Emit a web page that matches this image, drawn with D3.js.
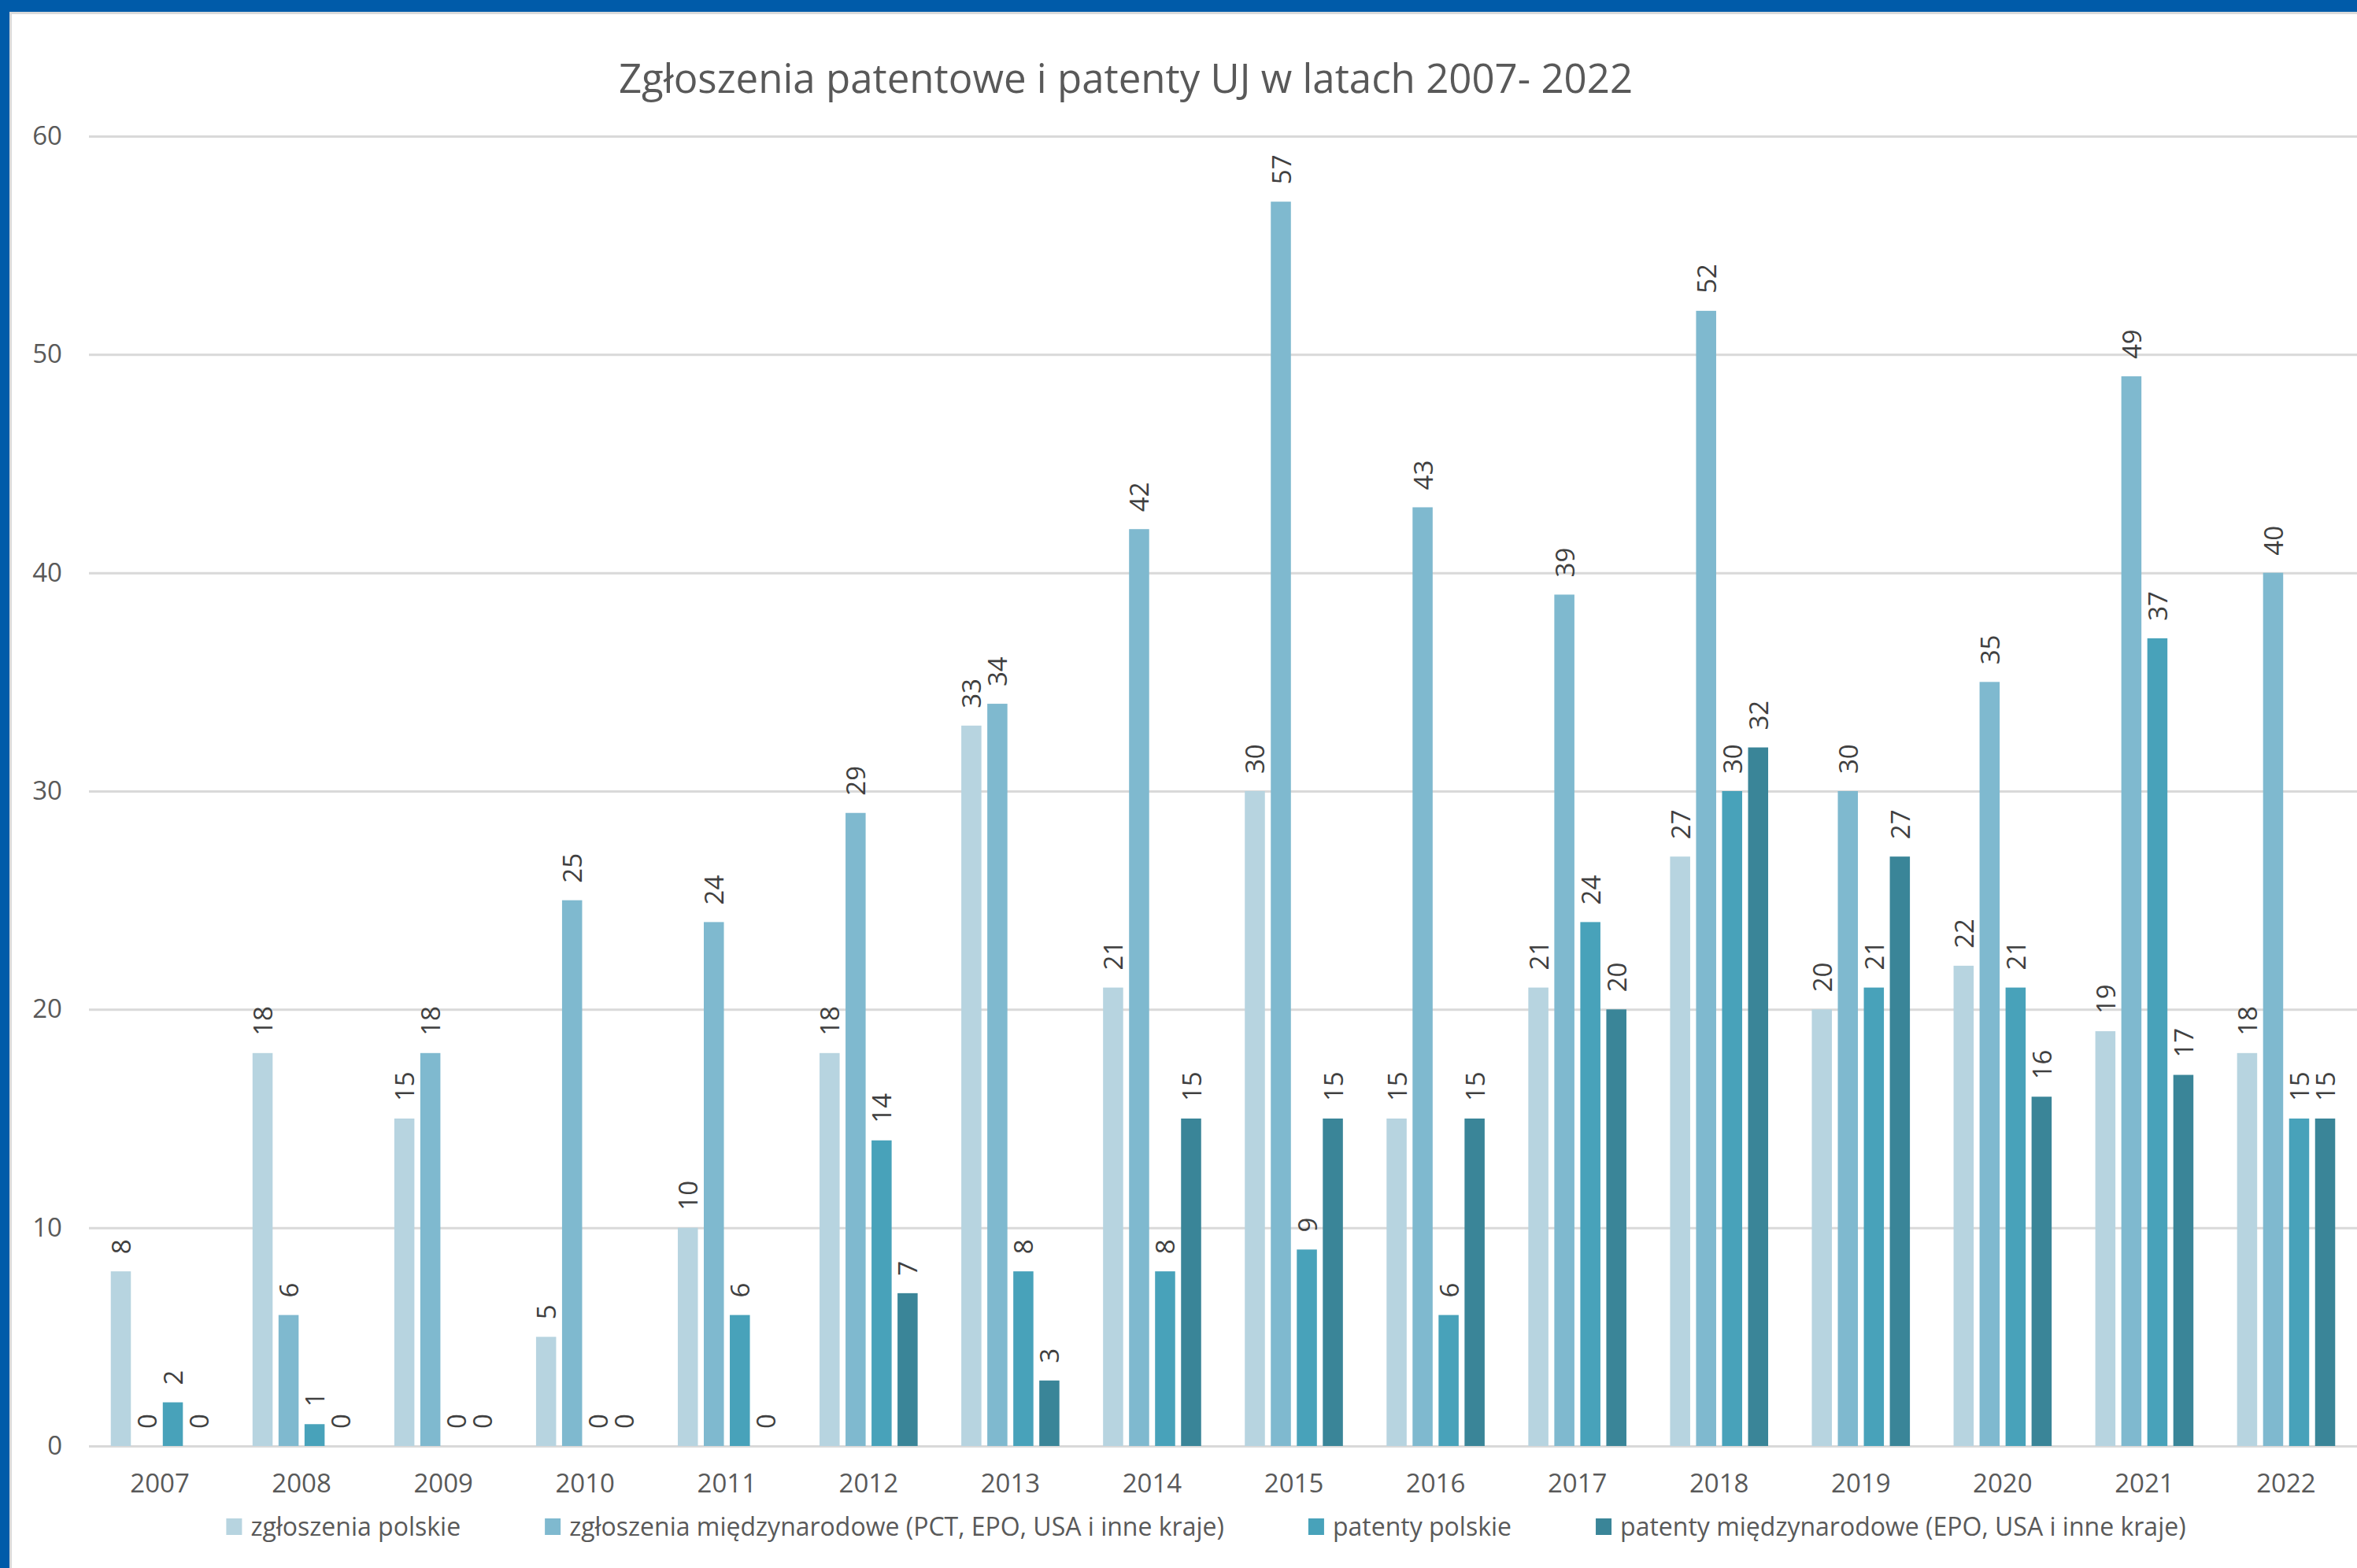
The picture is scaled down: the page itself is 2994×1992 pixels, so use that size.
<!DOCTYPE html>
<html>
<head>
<meta charset="utf-8">
<script src="https://cdn.jsdelivr.net/npm/d3@7"></script>
<style>
  html, body { margin: 0; padding: 0; background: #ffffff; }
  svg { display: block; font-family: "Open Sans", "Noto Sans", sans-serif; }
</style>
</head>
<body>
<script>
// Patent applications and granted patents of UJ, 2007–2022
const years = ['2007','2008','2009','2010','2011','2012','2013','2014',
               '2015','2016','2017','2018','2019','2020','2021','2022'];

const seriesNames = [
  'zgłoszenia polskie',
  'zgłoszenia międzynarodowe (PCT, EPO, USA i inne kraje)',
  'patenty polskie',
  'patenty międzynarodowe (EPO, USA i inne kraje)'
];

const zgloszeniaPolskie       = [8, 18, 15, 5, 10, 18, 33, 21, 30, 15, 21, 27, 20, 22, 19, 18];
const zgloszeniaMiedzynarodowe = [0, 6, 18, 25, 24, 29, 34, 42, 57, 43, 39, 52, 30, 35, 49, 40];
const patentyPolskie          = [2, 1, 0, 0, 6, 14, 8, 8, 9, 6, 24, 30, 21, 21, 37, 15];
const patentyMiedzynarodowe   = [0, 0, 0, 0, 0, 7, 3, 15, 15, 15, 20, 32, 27, 16, 17, 15];

const yTicks = [0, 10, 20, 30, 40, 50, 60];
const titleText = 'Zgłoszenia patentowe i patenty UJ w latach 2007- 2022';

const seriesValues = [zgloszeniaPolskie, zgloszeniaMiedzynarodowe, patentyPolskie, patentyMiedzynarodowe];
const colors = ['#B7D4E0', '#7FB9CF', '#48A2BA', '#3A8598'];

const W = 2994, H = 1992;
const plot = { left: 113, right: 2994, top: 173, bottom: 1837 };

const svg = d3.select('body').append('svg')
  .attr('width', W).attr('height', H);

svg.append('rect').attr('width', W).attr('height', H).attr('fill', '#ffffff');

// frame: blue bars on top and left with a faint shadow line
svg.append('line').attr('x1', 12).attr('x2', W).attr('y1', 16.5).attr('y2', 16.5)
  .attr('stroke', '#DADADA').attr('stroke-width', 3);
svg.append('line').attr('x1', 13.5).attr('x2', 13.5).attr('y1', 15).attr('y2', H)
  .attr('stroke', '#DADADA').attr('stroke-width', 3);
svg.append('rect').attr('x', 0).attr('y', 0).attr('width', W).attr('height', 15).attr('fill', '#005BA9');
svg.append('rect').attr('x', 0).attr('y', 0).attr('width', 12).attr('height', H).attr('fill', '#005BA9');

// scales
const y = d3.scaleLinear().domain([0, 60]).range([plot.bottom, plot.top]);
const x0 = d3.scaleBand().domain(years).range([plot.left, plot.right])
  .paddingInner(0.308).paddingOuter(0.154);
const x1 = d3.scaleBand().domain(d3.range(seriesNames.length)).range([0, x0.bandwidth()])
  .paddingInner(0.227).paddingOuter(0);

// y axis with gridlines
const gy = svg.append('g')
  .attr('transform', `translate(${plot.left},0)`)
  .call(d3.axisLeft(y).tickValues(yTicks).tickSize(-(plot.right - plot.left)).tickPadding(34));
gy.select('.domain').remove();
gy.selectAll('.tick line').attr('stroke', '#D9D9D9').attr('stroke-width', 3);
gy.selectAll('.tick text')
  .attr('fill', '#595959').attr('font-size', 33).attr('font-family', '"Open Sans", sans-serif');

// x axis labels
const gx = svg.append('g')
  .attr('transform', `translate(0,${plot.bottom})`)
  .call(d3.axisBottom(x0).tickSize(0).tickPadding(36));
gx.select('.domain').remove();
gx.selectAll('.tick text')
  .attr('fill', '#595959').attr('font-size', 33).attr('font-family', '"Open Sans", sans-serif');

// bars
const rows = years.map((yr, i) => ({ year: yr, vals: seriesValues.map(s => s[i]) }));
const groups = svg.append('g').selectAll('g.year').data(rows).join('g')
  .attr('class', 'year')
  .attr('transform', d => `translate(${x0(d.year)},0)`);

groups.selectAll('rect').data(d => d.vals.map((v, k) => ({ v, k }))).join('rect')
  .attr('x', d => x1(d.k))
  .attr('y', d => y(d.v))
  .attr('width', x1.bandwidth())
  .attr('height', d => y(0) - y(d.v))
  .attr('fill', d => colors[d.k]);

// value labels, rotated and placed above each bar
groups.selectAll('text.val').data(d => d.vals.map((v, k) => ({ v, k }))).join('text')
  .attr('class', 'val')
  .attr('transform', d => `translate(${x1(d.k) + x1.bandwidth() / 2},${y(d.v) - 22}) rotate(-90)`)
  .attr('text-anchor', 'start')
  .attr('dominant-baseline', 'central')
  .attr('fill', '#404040')
  .attr('font-size', 33)
  .text(d => d.v);

// title
svg.append('text')
  .attr('x', 1430).attr('y', 118)
  .attr('text-anchor', 'middle')
  .attr('fill', '#595959')
  .attr('font-size', 51)
  .text(titleText);

// legend, laid out left to right and centred
const legend = svg.append('g');
const sw = 20, swGap = 11, entryGap = 107, legendY = 1951, legendCenter = 1532;
const items = seriesNames.map((name, k) => {
  const g = legend.append('g');
  g.append('rect').attr('width', sw).attr('height', 21).attr('y', -22).attr('fill', colors[k]);
  const t = g.append('text').attr('x', sw + swGap).attr('y', 0)
    .attr('fill', '#595959').attr('font-size', 32).text(name);
  return { g, w: sw + swGap + t.node().getComputedTextLength() };
});
const total = d3.sum(items, d => d.w) + entryGap * (items.length - 1);
let cx = legendCenter - total / 2;
items.forEach(it => {
  it.g.attr('transform', `translate(${cx},${legendY})`);
  cx += it.w + entryGap;
});
</script>
</body>
</html>
